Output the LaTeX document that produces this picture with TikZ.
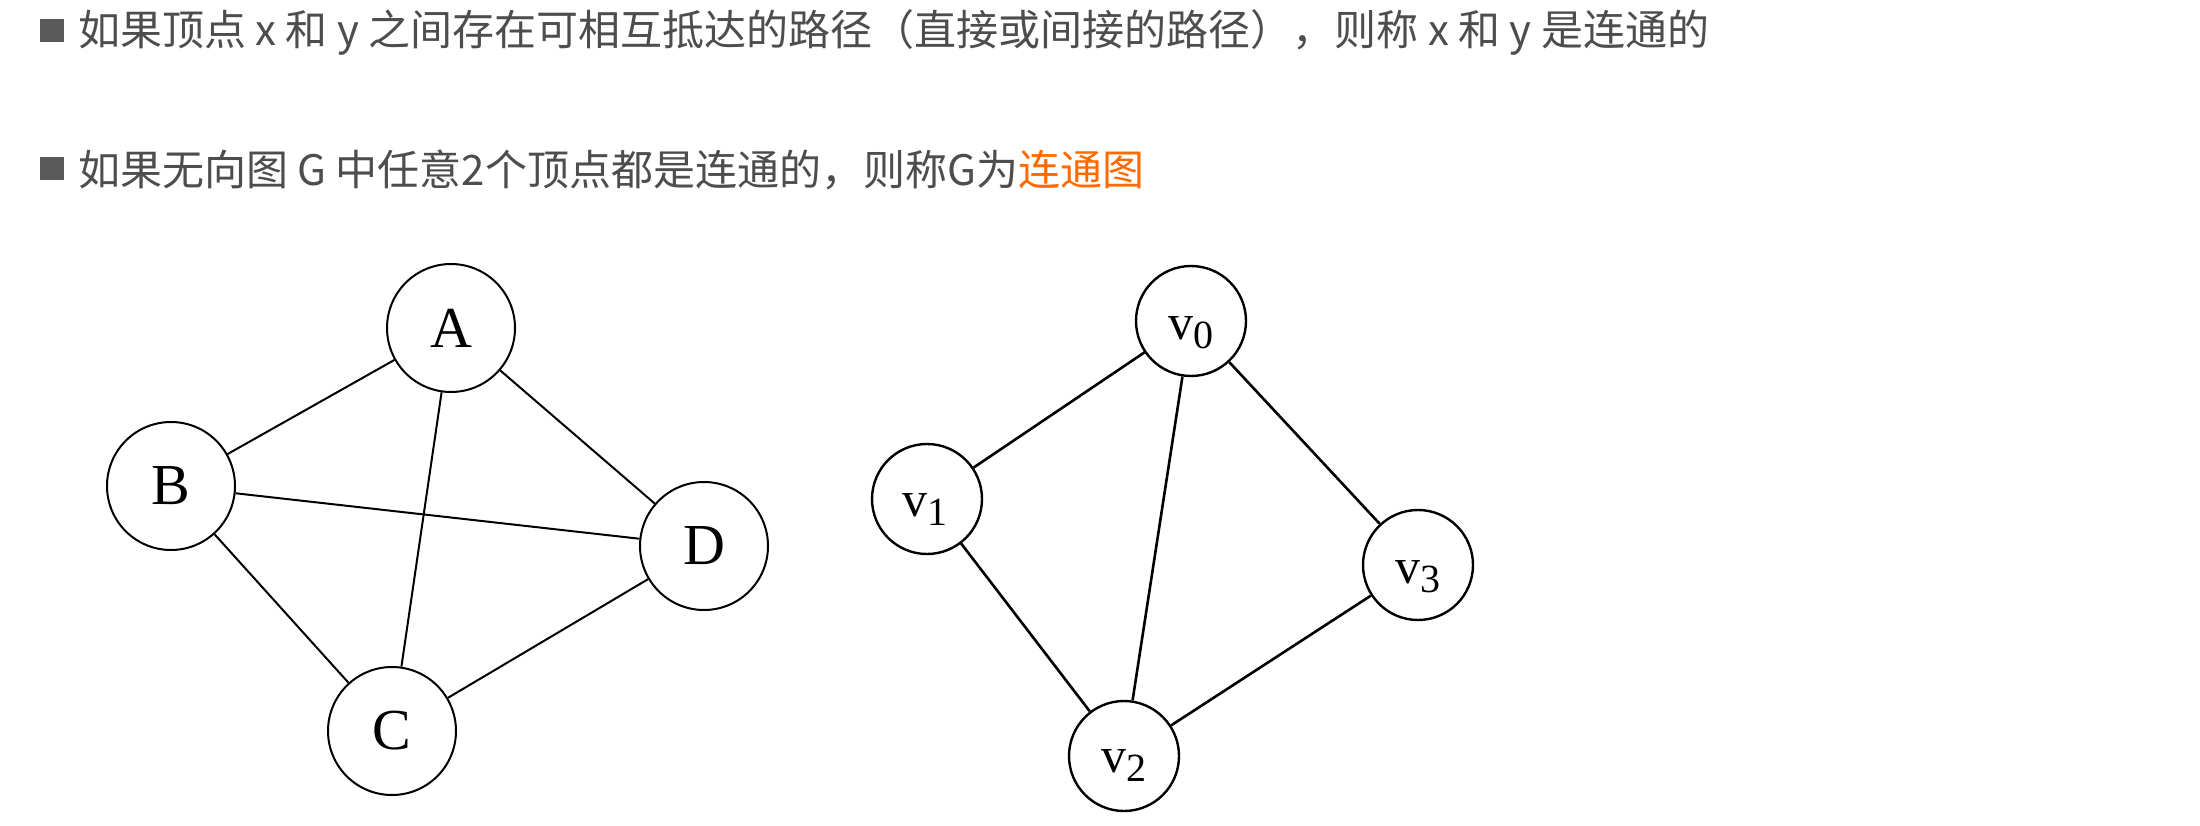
\documentclass[tikz,border=0pt]{standalone}
\usepackage{fontspec}
\setmainfont{Liberation Serif}
\newfontfamily\cjk{Noto Sans CJK SC}
\newfontfamily\tms{Liberation Serif}
\definecolor{txtgray}{HTML}{4D4D4D}
\definecolor{bulgray}{HTML}{595959}
\definecolor{hiorange}{HTML}{FF6A00}
\begin{document}
\begin{tikzpicture}[x=1pt,y=-1pt,
  bul/.style={rectangle, fill=bulgray, minimum width=24pt, minimum height=23pt, inner sep=0pt},
  line/.style={anchor=west, inner sep=0pt, text=txtgray, font=\cjk\fontsize{42}{42}\selectfont},
  bigv/.style={circle, draw=black, line width=2pt, minimum size=128pt, inner sep=0pt, font=\tms\fontsize{58}{58}\selectfont},
  smallv/.style={circle, draw=black, line width=2.4pt, minimum size=110pt, inner sep=0pt},
  vlab/.style={inner sep=0pt, font=\tms\fontsize{50}{50}\selectfont},
  edgeA/.style={line width=2pt, draw=black},
  edgeV/.style={line width=2.6pt, draw=black}
]
\useasboundingbox (0,0) rectangle (2200,826);
\fill[white] (0,0) rectangle (2200,826);

% text lines
\node[bul] (b1) at (52,30.5) {};
\node[line] (t1) at (78,32.5) {如果顶点 x 和 y 之间存在可相互抵达的路径（直接或间接的路径），则称 x 和 y 是连通的};
\node[bul] (b2) at (52,169) {};
\node[line] (t2) at (78,170) {如果无向图 G 中任意2个顶点都是连通的，则称G为\textcolor{hiorange}{连通图}};

% left graph
\node[bigv] (A) at (451,328) {A};
\node[bigv] (B) at (171,486) {B};
\node[bigv] (C) at (392,731) {C};
\node[bigv] (D) at (704,546) {D};
\draw[edgeA] (A) -- (B);
\draw[edgeA] (A) -- (C);
\draw[edgeA] (A) -- (D);
\draw[edgeA] (B) -- (D);
\draw[edgeA] (B) -- (C);
\draw[edgeA] (C) -- (D);

% right graph
\node[smallv] (v0) at (1191,321) {};
\node[smallv] (v1) at (927,499) {};
\node[smallv] (v2) at (1124,756) {};
\node[smallv] (v3) at (1418,565) {};
\node[vlab] (v0l) at (1191,333) {v\raisebox{-9pt}{\fontsize{40}{40}\selectfont 0}};
\node[vlab] (v1l) at (925,510) {v\raisebox{-9pt}{\fontsize{40}{40}\selectfont 1}};
\node[vlab] (v2l) at (1124,766) {v\raisebox{-9pt}{\fontsize{40}{40}\selectfont 2}};
\node[vlab] (v3l) at (1418,577) {v\raisebox{-9pt}{\fontsize{40}{40}\selectfont 3}};
\draw[edgeV] (v0) -- (v1);
\draw[edgeV] (v0) -- (v2);
\draw[edgeV] (v0) -- (v3);
\draw[edgeV] (v1) -- (v2);
\draw[edgeV] (v2) -- (v3);
\end{tikzpicture}
\end{document}
